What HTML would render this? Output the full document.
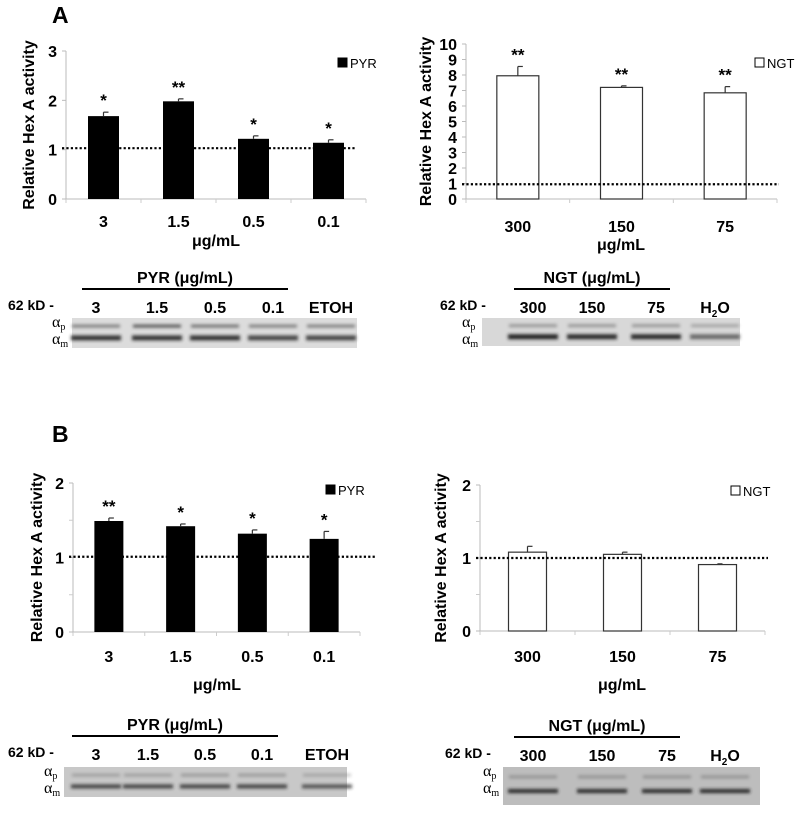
<!DOCTYPE html>
<html><head><meta charset="utf-8"><style>
body{margin:0;background:#fff;width:800px;height:816px;overflow:hidden}
svg{font-family:"Liberation Sans",Arial,sans-serif}
</style></head><body>
<svg id="fig" width="800" height="816" viewBox="0 0 800 816">
<defs><filter id="bl" x="-20%" y="-100%" width="140%" height="300%"><feGaussianBlur stdDeviation="1.6"/></filter></defs>
<text x="52" y="23" font-size="23" font-weight="bold">A</text>
<text x="52" y="442" font-size="23" font-weight="bold">B</text>
<g id="charts"></g>
<g id="blots"></g>
</svg>
<script>
// Data
const catsPyr = ["3","1.5","0.5","0.1"];
const catsNgt = ["300","150","75"];
const aPyrVals = [1.68,1.98,1.22,1.14];
const aPyrErr = [0.08,0.05,0.06,0.06];
const aPyrSig = ["*","**","*","*"];
const aNgtVals = [7.95,7.2,6.85];
const aNgtErr = [0.6,0.1,0.4];
const aNgtSig = ["**","**","**"];
const bPyrVals = [1.49,1.42,1.32,1.25];
const bPyrErr = [0.04,0.03,0.05,0.1];
const bPyrSig = ["**","*","*","*"];
const bNgtVals = [1.08,1.05,0.91];
const bNgtErr = [0.08,0.03,0.01];
const bNgtSig = ["","",""];
const aPyrTicks = [0,1,2,3];
const aNgtTicks = [0,1,2,3,4,5,6,7,8,9,10];
const bTicks = [0,1,2];

const NS="http://www.w3.org/2000/svg";
function mk(tag,attrs,parent,txt){const e=document.createElementNS(NS,tag);for(const k in attrs)e.setAttribute(k,attrs[k]);if(txt!==undefined)e.textContent=txt;parent.appendChild(e);return e;}

function chart(cfg){
  const g=mk("g",{},document.getElementById("charts"));
  
  
  const ymax=cfg.ticks[cfg.ticks.length-1];
  const y=v=>cfg.y0-(v/ymax)*(cfg.y0-cfg.yTop);
  const n=cfg.cats.length, step=(cfg.xEnd-cfg.x0)/n;
  const x=i=>cfg.x0+step*(i+0.5);
  const ax=mk("line",{x1:cfg.x0,y1:cfg.yTop,x2:cfg.x0,y2:cfg.y0,stroke:"#bbb","stroke-width":1},g);
  
  
  const xa=mk("line",{x1:cfg.x0,y1:cfg.y0,x2:cfg.xEnd,y2:cfg.y0,stroke:"#bbb","stroke-width":1},g);
  
  
  for(let i=0;i<=n;i++){mk("line",{x1:cfg.x0+step*i,y1:cfg.y0,x2:cfg.x0+step*i,y2:cfg.y0+4,stroke:"#ccc"},g);}
  cfg.ticks.forEach(t=>{
    mk("line",{x1:cfg.x0-4,y1:y(t),x2:cfg.x0,y2:y(t),stroke:"#bbb"},g);
    const tl=mk("text",{x:cfg.x0-9,y:y(t)+6,"font-size":16,"font-weight":"bold","text-anchor":"end"},g,String(t));
    
    
  });
  if(cfg.minor)cfg.ticks.slice(0,-1).forEach(t=>mk("line",{x1:cfg.x0-4,y1:y(t+0.5),x2:cfg.x0,y2:y(t+0.5),stroke:"#ccc"},g));
  cfg.vals.forEach((v,i)=>{
    const cx=x(i),w=cfg.bw;
    const b=mk("rect",{x:cx-w/2,y:y(v),width:w,height:cfg.y0-y(v),fill:cfg.fill,stroke:"#333","stroke-width":cfg.fill=="#000"?0:1.2},g);
    
    
    const et=y(v+cfg.err[i]);
    mk("line",{x1:cx,y1:y(v),x2:cx,y2:et,stroke:"#333","stroke-width":1.2},g);
    mk("line",{x1:cx,y1:et,x2:cx+5,y2:et,stroke:"#333","stroke-width":1.2},g);
    if(cfg.sig[i]){
      const s=mk("text",{x:cx,y:et-6,"font-size":17,"font-weight":"bold","text-anchor":"middle"},g,cfg.sig[i]);
      
      
    }
    const cl=mk("text",{x:cx,y:cfg.catY,"font-size":16,"font-weight":"bold","text-anchor":"middle"},g,cfg.cats[i]);
    
    
  });
  const dl=mk("line",{x1:cfg.x0-4,y1:y(cfg.ref),x2:cfg.dEnd,y2:y(cfg.ref),stroke:"#000","stroke-width":2.2,"stroke-dasharray":"2.2 2.2"},g);
  
  
  const xt=mk("text",{x:cfg.unitX,y:cfg.unitY,"font-size":16,"font-weight":"bold","text-anchor":"middle"},g,"μg/mL");
  
  
  const cy=(cfg.yTop+cfg.y0)/2;
  const yt=mk("text",{x:cfg.titleX,y:cy,"font-size":16,"font-weight":"bold","text-anchor":"middle",transform:`rotate(-90 ${cfg.titleX} ${cy})`},g,"Relative Hex A activity");
  
  
  const lg=mk("g",{},g);
  
  
  mk("rect",{x:cfg.legX,y:cfg.legY-10,width:9,height:9,fill:cfg.fill,stroke:"#000","stroke-width":1},lg);
  mk("text",{x:cfg.legX+12,y:cfg.legY,"font-size":13},lg,cfg.label);
}
chart({name:"chart-a-pyr",cats:catsPyr,vals:aPyrVals,err:aPyrErr,sig:aPyrSig,ticks:aPyrTicks,x0:66,xEnd:366,yTop:51,y0:199,bw:31,fill:"#000",ref:1.03,dEnd:356,catY:227,unitX:216,unitY:246,titleX:34,legX:338,legY:68,label:"PYR"});
chart({name:"chart-a-ngt",cats:catsNgt,vals:aNgtVals,err:aNgtErr,sig:aNgtSig,ticks:aNgtTicks,x0:466,xEnd:777,yTop:44,y0:199,bw:42,fill:"#fff",ref:0.95,dEnd:779,catY:232,unitX:621,unitY:250,titleX:431,legX:755,legY:68,label:"NGT"});
chart({name:"chart-b-pyr",cats:catsPyr,vals:bPyrVals,err:bPyrErr,sig:bPyrSig,ticks:bTicks,minor:true,x0:73,xEnd:360,yTop:483,y0:632,bw:29,fill:"#000",ref:1.01,dEnd:376,catY:662,unitX:217,unitY:690,titleX:42,legX:326,legY:495,label:"PYR"});
chart({name:"chart-b-ngt",cats:catsNgt,vals:bNgtVals,err:bNgtErr,sig:bNgtSig,ticks:bTicks,minor:true,x0:480,xEnd:765,yTop:485,y0:631,bw:38,fill:"#fff",ref:1.0,dEnd:768,catY:662,unitX:622,unitY:690,titleX:446,legX:731,legY:496,label:"NGT"});

function blot(cfg){
  const g=mk("g",{},document.getElementById("blots"));
  
  
  mk("line",{x1:cfg.lx1,y1:cfg.ly,x2:cfg.lx2,y2:cfg.ly,stroke:"#000","stroke-width":2},g);
  const t=mk("text",{x:(cfg.lx1+cfg.lx2)/2,y:cfg.ly-6,"font-size":16,"font-weight":"bold","text-anchor":"middle"},g,cfg.title);
  
  
  mk("text",{x:cfg.kx,y:cfg.ly+21,"font-size":14,"font-weight":"bold"},g,"62 kD -");
  cfg.lanes.forEach((l,i)=>{
    const e=mk("text",{x:cfg.lanesX[i],y:cfg.ly+24,"font-size":16,"font-weight":"bold","text-anchor":"middle"},g);
    if(l==="H2O"){e.innerHTML='H<tspan font-size="10" dy="4">2</tspan><tspan dy="-4">O</tspan>';}else e.textContent=l;
    
    
  });
  const r=mk("rect",{x:cfg.bx,y:cfg.by,width:cfg.bw,height:cfg.bh,fill:cfg.bg},g);
  
  
  cfg.lanesX.forEach((lx,i)=>{
    mk("rect",{x:lx-24,y:cfg.by+cfg.bh*0.22,width:48,height:3,fill:"#555",opacity:cfg.pOp[i],filter:"url(#bl)"},g);
    mk("rect",{x:lx-25,y:cfg.by+cfg.bh*0.58,width:50,height:cfg.mH,fill:"#222",opacity:cfg.mOp[i],filter:"url(#bl)"},g);
  });
  mk("text",{x:cfg.bx-20,y:cfg.by+9,"font-size":16,"font-family":"Liberation Serif"},g).innerHTML='α<tspan font-size="10" dy="3">p</tspan>';
  mk("text",{x:cfg.bx-20,y:cfg.by+26,"font-size":16,"font-family":"Liberation Serif"},g).innerHTML='α<tspan font-size="10" dy="3">m</tspan>';
}
blot({name:"blot-a-pyr",title:"PYR (μg/mL)",lx1:82,lx2:288,ly:289,kx:8,lanes:["3","1.5","0.5","0.1","ETOH"],lanesX:[96,157,215,273,331],bx:72,by:318,bw:285,bh:30,bg:"#dcdcdc",pOp:[0.7,1,0.8,0.7,0.7],mOp:[0.9,0.9,0.9,0.8,0.8],mH:5});
blot({name:"blot-a-ngt",title:"NGT (μg/mL)",lx1:514,lx2:670,ly:289,kx:440,lanes:["300","150","75","H2O"],lanesX:[533,592,656,715],bx:482,by:318,bw:258,bh:28,bg:"#d8d8d8",pOp:[0.5,0.5,0.5,0.4],mOp:[1,0.95,0.95,0.6],mH:5});
blot({name:"blot-b-pyr",title:"PYR (μg/mL)",lx1:72,lx2:278,ly:736,kx:8,lanes:["3","1.5","0.5","0.1","ETOH"],lanesX:[96,148,205,262,327],bx:64,by:767,bw:283,bh:30,bg:"#c8c8c8",pOp:[0.35,0.35,0.4,0.4,0.3],mOp:[0.8,0.8,0.8,0.8,0.7],mH:4});
blot({name:"blot-b-ngt",title:"NGT (μg/mL)",lx1:514,lx2:680,ly:737,kx:445,lanes:["300","150","75","H2O"],lanesX:[533,602,667,725],bx:503,by:767,bw:257,bh:38,bg:"#bdbdbd",pOp:[0.4,0.4,0.4,0.4],mOp:[0.95,0.95,0.95,0.95],mH:4});
</script>
</body></html>
